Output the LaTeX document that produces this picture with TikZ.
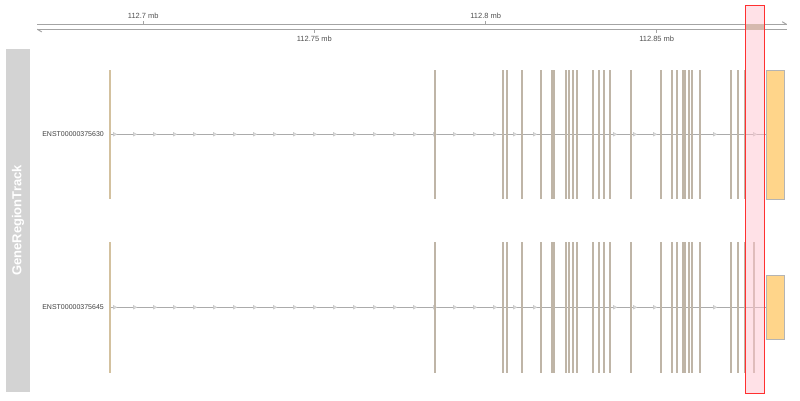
\documentclass[tikz,border=0pt]{standalone}
\usepackage{fontspec}
\setmainfont{Liberation Sans}
\definecolor{axisgrey}{HTML}{A4A4A4}
\definecolor{axistext}{HTML}{505050}
\definecolor{exonfill}{HTML}{FFD58A}
\definecolor{exonborder}{HTML}{B4B4B4}
\definecolor{exonmix}{HTML}{BFB5A7}
\definecolor{exontan}{HTML}{D3C19F}
\definecolor{introngrey}{HTML}{ABABAB}
\definecolor{panelgrey}{HTML}{D3D3D3}
\definecolor{hlfill}{HTML}{FFC4CF}
\definecolor{hlborder}{HTML}{FF3030}
\definecolor{axisband}{HTML}{AEAE8E}
\begin{document}
\begin{tikzpicture}[x=1pt,y=-1pt,
  axisline/.style={draw=axisgrey,line width=1.5pt},
  ticklab/.style={font=\fontsize{7.5}{8}\selectfont,text=axistext,inner sep=0pt},
  tick/.style={draw=axisgrey,line width=0.9pt},
  exon/.style={draw=exonmix,line width=1.9pt},
  intron/.style={draw=introngrey,line width=0.9pt},
  chev/.style={draw=introngrey!70,fill=introngrey!40,line width=0.4pt},
  utr/.style={fill=exonfill,draw=exonborder,line width=0.9pt,inner sep=0pt,minimum width=18pt},
  txlab/.style={font=\fontsize{7}{8}\selectfont,text=black!75,inner sep=0pt,anchor=east}]
\useasboundingbox (0,0) rectangle (800,400);
% title panel
\node[fill=panelgrey,minimum width=24pt,minimum height=343pt,inner sep=0pt] (panel) at (18,220.5) {};
\node[rotate=90,text=white,font=\bfseries\fontsize{13}{13}\selectfont,inner sep=0pt] (title) at (panel.center) {GeneRegionTrack};
% axis
\coordinate (al) at (37.3,24.5);
\coordinate (ar) at (786.7,24.5);
\coordinate (bl) at (37.3,29.3);
\coordinate (br) at (786.7,29.3);
\draw[axisline] (al) -- (ar);
\draw[axisline] (bl) -- (br);
\draw[axisline,line width=1pt] (ar) -- ++(-4.5,-2.8);
\draw[axisline,line width=1pt] (bl) -- ++(4.5,2.6);
\fill[axisband] (745.7,24.2) rectangle (764.3,29.6);
\draw[tick] (143.3,24.5) -- (143.3,21);
\node[ticklab] (t1) at (143.3,16.3) {112.7 mb};
\draw[tick] (485.7,24.5) -- (485.7,21);
\node[ticklab] (t3) at (485.7,16.3) {112.8 mb};
\draw[tick] (314.3,29.3) -- (314.3,33);
\node[ticklab] (t2) at (314.3,38.5) {112.75 mb};
\draw[tick] (656.7,29.3) -- (656.7,33);
\node[ticklab] (t4) at (656.7,38.5) {112.85 mb};
% transcript 1
\node[txlab] (lab1) at (104,134.3) {ENST00000375630};
\node[utr,minimum height=129pt] (u1) at (775.2,134.6) {};
\coordinate (s1) at (110,134.3);
\draw[intron] (s1) -- (u1.west |- s1);
\foreach \x in {115,135,...,535,615,635,655,715,755}
  \draw[chev] (\x-1.6,132.5) -- (\x+1.8,134.3) -- (\x-1.6,136.1) -- cycle;
\draw[exon,draw=exontan] (110,70) -- (110,199.3);
\foreach \x in {435,502.7,507,522,541,552,554.3,565.7,569,573,577.3,593.3,598.7,604,609.7,630.7,660.7,671.7,677.3,683.3,685.3,688.7,692.3,699.7,731.3,737.7,745.3}
  \draw[exon] (\x,70) -- (\x,199.3);
% transcript 2
\node[txlab] (lab2) at (104,307.3) {ENST00000375645};
\node[utr,minimum height=64pt] (u2) at (775.2,307.2) {};
\coordinate (s2) at (110,307.3);
\draw[intron] (s2) -- (u2.west |- s2);
\foreach \x in {115,135,...,535,615,635,655,715}
  \draw[chev] (\x-1.6,305.5) -- (\x+1.8,307.3) -- (\x-1.6,309.1) -- cycle;
\draw[exon,draw=exontan] (110,242.3) -- (110,372.7);
\foreach \x in {435,502.7,507,522,541,552,554.3,565.7,569,573,577.3,593.3,598.7,604,609.7,630.7,660.7,671.7,677.3,683.3,685.3,688.7,692.3,699.7,731.3,737.7,745.3,753.7}
  \draw[exon] (\x,242.3) -- (\x,372.7);
% highlight
\node[fill=hlfill,fill opacity=0.5,draw=hlborder,draw opacity=1,line width=1pt,inner sep=0pt,minimum width=18.6pt,minimum height=387.5pt] (hl) at (755,199.5) {};
\end{tikzpicture}
\end{document}
